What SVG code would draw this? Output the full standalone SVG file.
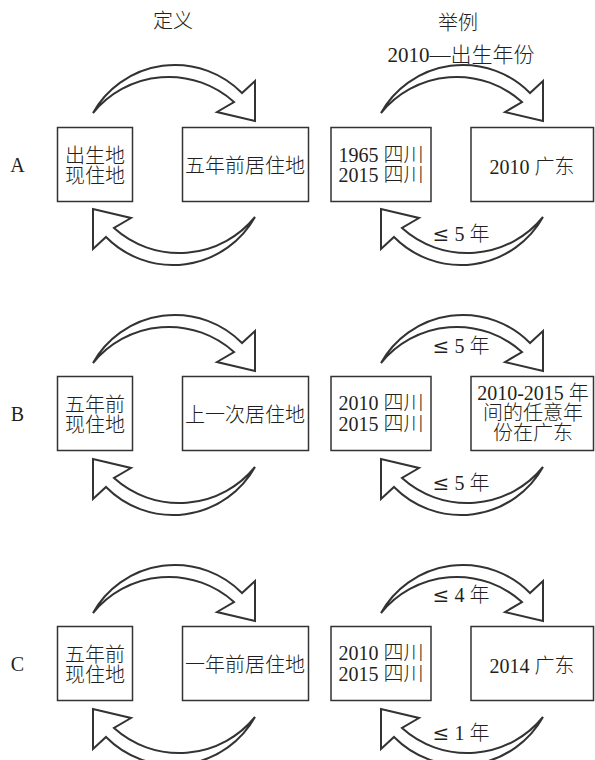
<svg xmlns="http://www.w3.org/2000/svg" xmlns:xlink="http://www.w3.org/1999/xlink" width="595" height="760" viewBox="0 0 595 760">
<style>
.t{font-family:"Liberation Serif","Noto Sans CJK SC",serif;font-size:20px;font-weight:300;fill:#231f20;text-anchor:middle}
.le{font-family:"DejaVu Serif","Liberation Serif",serif;font-size:20px}
.box{fill:#fff;stroke:#333;stroke-width:1.5}
.arr{fill:#fff;stroke:#333;stroke-width:2;stroke-linejoin:miter}
</style>
<defs>
<path id="arrow" class="arr" d="M93,113 A94,94 0 0 1 242,93 L255,81 L255,121 L217,112 L234,102 A97.5,97.5 0 0 0 93,113 Z"/>
</defs>
<rect width="595" height="760" fill="#fff"/>
<g id="headers">
<text class="t" x="173" y="28">定义</text>
<text class="t" x="458" y="30">举例</text>
<text class="t" x="17.5" y="172">A</text>
<text class="t" x="17.5" y="421">B</text>
<text class="t" x="17.5" y="671">C</text>
</g>
<g id="connectors">
<use xlink:href="#arrow"/>
<use xlink:href="#arrow" transform="rotate(180 174 165)"/>
<use xlink:href="#arrow" transform="translate(288 0)"/>
<use xlink:href="#arrow" transform="translate(288 0) rotate(180 174 165)"/>
<use xlink:href="#arrow" transform="translate(0 250)"/>
<use xlink:href="#arrow" transform="translate(0 250) rotate(180 174 165)"/>
<use xlink:href="#arrow" transform="translate(288 250)"/>
<use xlink:href="#arrow" transform="translate(288 250) rotate(180 174 165)"/>
<use xlink:href="#arrow" transform="translate(0 500)"/>
<use xlink:href="#arrow" transform="translate(0 500) rotate(180 174 165)"/>
<use xlink:href="#arrow" transform="translate(288 500)"/>
<use xlink:href="#arrow" transform="translate(288 500) rotate(180 174 165)"/>
<text class="t" x="461" y="62" style="font-size:21px">2010—出生年份</text>
<text class="t" x="461" y="241"><tspan class="le">≤</tspan> 5 年</text>
<text class="t" x="461" y="353"><tspan class="le">≤</tspan> 5 年</text>
<text class="t" x="461" y="490"><tspan class="le">≤</tspan> 5 年</text>
<text class="t" x="461" y="602"><tspan class="le">≤</tspan> 4 年</text>
<text class="t" x="461" y="740"><tspan class="le">≤</tspan> 1 年</text>
</g>
<g id="A1"><rect class="box" x="57.5" y="127.5" width="75" height="74"/><text class="t" x="95" y="163">出生地</text><text class="t" x="95" y="183">现住地</text></g>
<g id="A2"><rect class="box" x="182.5" y="127.5" width="126" height="74"/><text class="t" x="245" y="173">五年前居住地</text></g>
<g id="A3"><rect class="box" x="331" y="127.5" width="100" height="74"/><text class="t" x="381" y="162">1965 四川</text><text class="t" x="381" y="182">2015 四川</text></g>
<g id="A4"><rect class="box" x="471" y="127.5" width="122.5" height="74"/><text class="t" x="532" y="174">2010 广东</text></g>
<g id="B1"><rect class="box" x="57.5" y="376.5" width="75" height="74"/><text class="t" x="95" y="412">五年前</text><text class="t" x="95" y="432">现住地</text></g>
<g id="B2"><rect class="box" x="182.5" y="376.5" width="126" height="74"/><text class="t" x="245" y="422">上一次居住地</text></g>
<g id="B3"><rect class="box" x="331" y="376.5" width="100" height="74"/><text class="t" x="381" y="410">2010 四川</text><text class="t" x="381" y="431">2015 四川</text></g>
<g id="B4"><rect class="box" x="471" y="376.5" width="122.5" height="74"/><text class="t" x="533" y="400">2010-2015 年</text><text class="t" x="533" y="420">间的任意年</text><text class="t" x="533" y="440">份在广东</text></g>
<g id="C1"><rect class="box" x="57.5" y="626.5" width="75" height="74"/><text class="t" x="95" y="662">五年前</text><text class="t" x="95" y="682">现住地</text></g>
<g id="C2"><rect class="box" x="182.5" y="626.5" width="126" height="74"/><text class="t" x="245" y="672">一年前居住地</text></g>
<g id="C3"><rect class="box" x="331" y="626.5" width="100" height="74"/><text class="t" x="381" y="660">2010 四川</text><text class="t" x="381" y="681">2015 四川</text></g>
<g id="C4"><rect class="box" x="471" y="626.5" width="122.5" height="74"/><text class="t" x="532" y="673">2014 广东</text></g>
</svg>
